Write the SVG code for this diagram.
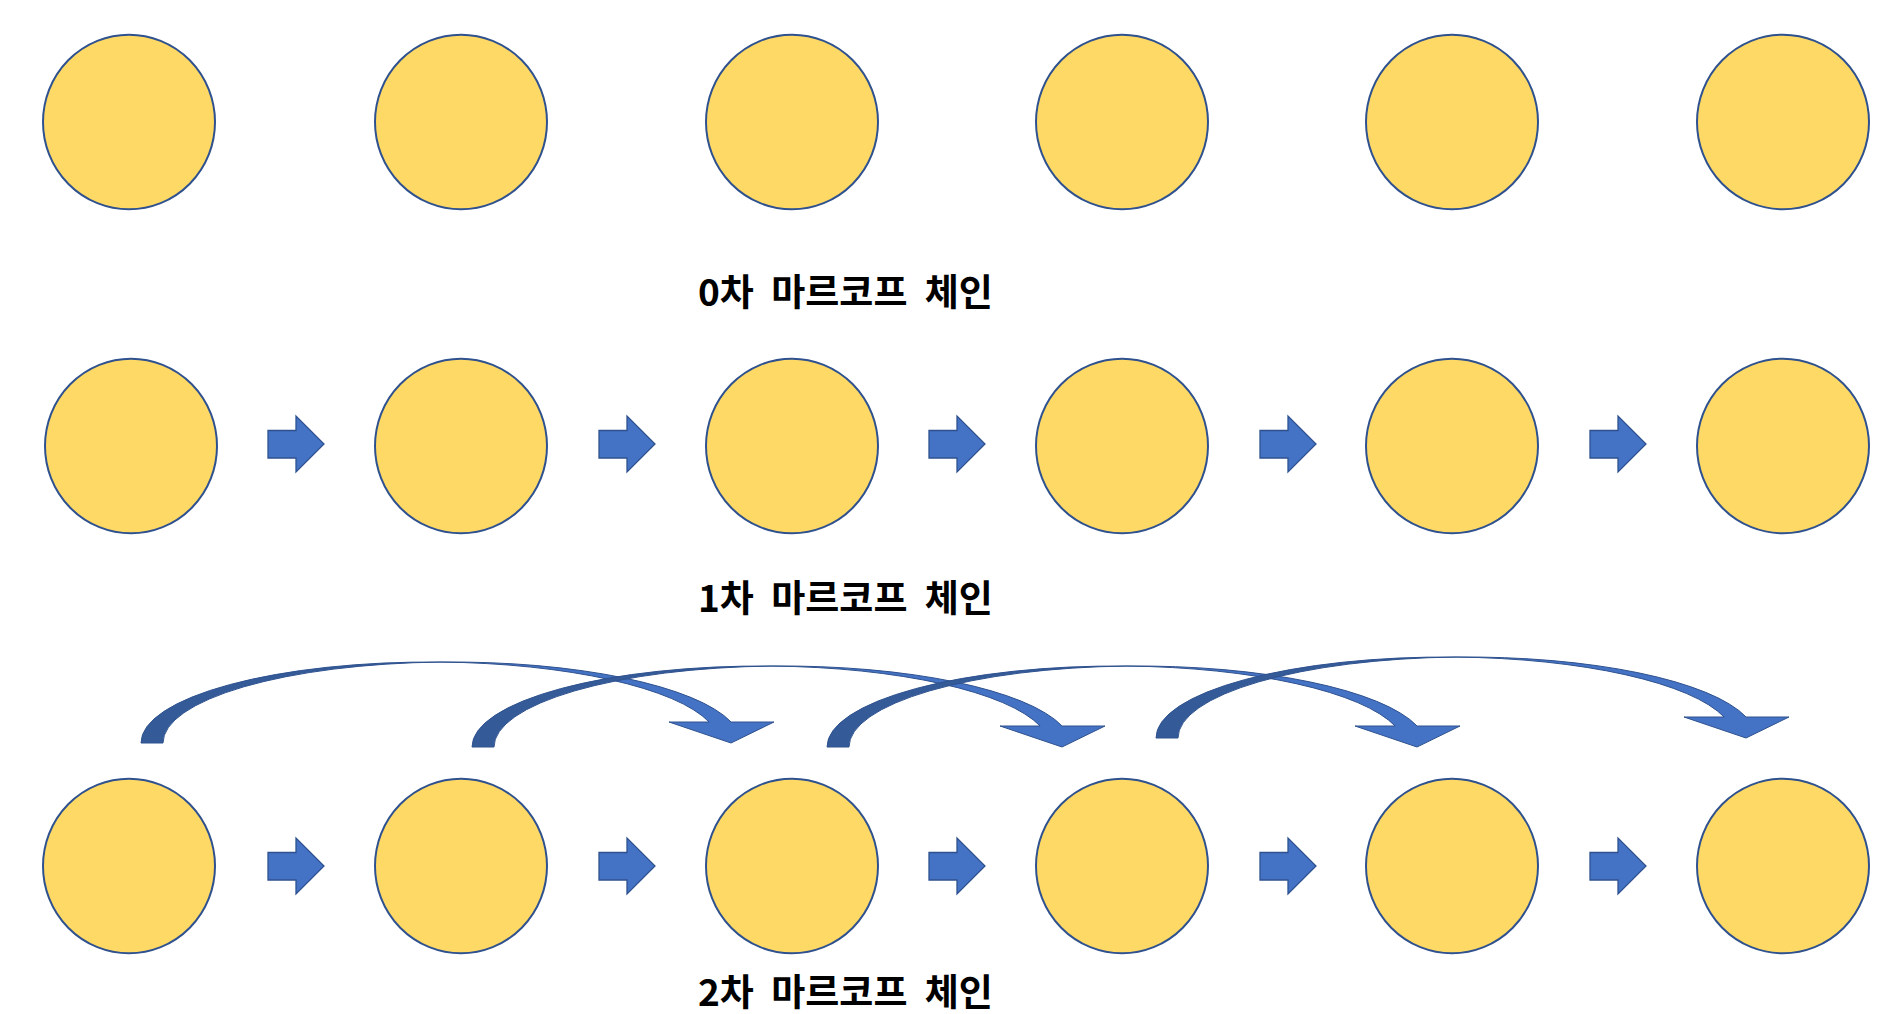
<svg xmlns="http://www.w3.org/2000/svg" xmlns:xlink="http://www.w3.org/1999/xlink" width="1880" height="1014" viewBox="0 0 1880 1014">
<style>
.node{fill:#FFD966;stroke:#2F528F;stroke-width:2}
.arr{fill:#4472C4;stroke:#2F528F;stroke-width:1.3;stroke-linejoin:miter}
.dark{fill:#345B98;stroke:#2F528F;stroke-width:1}
.light{fill:#4472C4;stroke:#2F528F;stroke-width:1}
.lbl{font-family:"Noto Sans CJK KR","Noto Sans",sans-serif;font-weight:700;font-size:37px;fill:#000;word-spacing:9px}
</style>
<defs>
<polygon id="sa" points="0,-13.5 28,-13.5 28,-28 56,0 28,28 28,14 0,14"/>
<g id="ca">
<path class="dark" d="M141,743 A289,81 0 0 1 441,662.06 A289,81 0 0 0 163,743 Z"/>
<path class="light" d="M441,662.06 A289,81 0 0 1 731.1,722 L774,722 L731,743 L669,722 L709.1,722 A289,81 0 0 0 441,662.06 Z"/>
</g>
</defs>
<rect width="1880" height="1014" fill="#fff"/>
<g id="row0">
<ellipse id="n0_1" class="node" cx="129" cy="122" rx="86" ry="87.3"/>
<ellipse id="n0_2" class="node" cx="461" cy="122" rx="86" ry="87.3"/>
<ellipse id="n0_3" class="node" cx="792" cy="122" rx="86" ry="87.3"/>
<ellipse id="n0_4" class="node" cx="1122" cy="122" rx="86" ry="87.3"/>
<ellipse id="n0_5" class="node" cx="1452" cy="122" rx="86" ry="87.3"/>
<ellipse id="n0_6" class="node" cx="1783" cy="122" rx="86" ry="87.3"/>
</g>
<g id="row1">
<ellipse id="n1_1" class="node" cx="131" cy="446" rx="86" ry="87.3"/>
<ellipse id="n1_2" class="node" cx="461" cy="446" rx="86" ry="87.3"/>
<ellipse id="n1_3" class="node" cx="792" cy="446" rx="86" ry="87.3"/>
<ellipse id="n1_4" class="node" cx="1122" cy="446" rx="86" ry="87.3"/>
<ellipse id="n1_5" class="node" cx="1452" cy="446" rx="86" ry="87.3"/>
<ellipse id="n1_6" class="node" cx="1783" cy="446" rx="86" ry="87.3"/>
</g>
<g id="row2">
<ellipse id="n2_1" class="node" cx="129" cy="866" rx="86" ry="87.3"/>
<ellipse id="n2_2" class="node" cx="461" cy="866" rx="86" ry="87.3"/>
<ellipse id="n2_3" class="node" cx="792" cy="866" rx="86" ry="87.3"/>
<ellipse id="n2_4" class="node" cx="1122" cy="866" rx="86" ry="87.3"/>
<ellipse id="n2_5" class="node" cx="1452" cy="866" rx="86" ry="87.3"/>
<ellipse id="n2_6" class="node" cx="1783" cy="866" rx="86" ry="87.3"/>
</g>
<g id="connectors">
<use href="#sa" class="arr" x="268" y="444"/>
<use href="#sa" class="arr" x="599" y="444"/>
<use href="#sa" class="arr" x="929" y="444"/>
<use href="#sa" class="arr" x="1260" y="444"/>
<use href="#sa" class="arr" x="1590" y="444"/>
<use href="#sa" class="arr" x="268" y="866"/>
<use href="#sa" class="arr" x="599" y="866"/>
<use href="#sa" class="arr" x="929" y="866"/>
<use href="#sa" class="arr" x="1260" y="866"/>
<use href="#sa" class="arr" x="1590" y="866"/>
<use href="#ca"/>
<use href="#ca" transform="translate(331,4)"/>
<use href="#ca" transform="translate(686,4)"/>
<use href="#ca" transform="translate(1015,-5)"/>
</g>
<g id="labels">
<text class="lbl" x="698" y="306">0차 마르코프 체인</text>
<text class="lbl" x="698" y="612">1차 마르코프 체인</text>
<text class="lbl" x="698" y="1006">2차 마르코프 체인</text>
</g>
</svg>
